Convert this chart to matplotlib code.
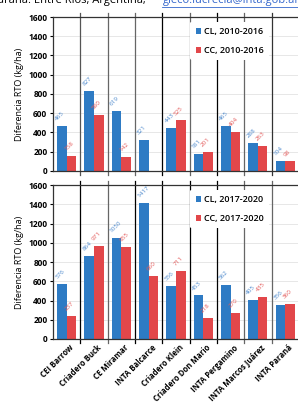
import numpy as np
import matplotlib
matplotlib.use("Agg")
import matplotlib.pyplot as plt

plt.rcParams['font.family'] = ['Open Sans', 'DejaVu Sans']

sites = ["CEI Barrow", "Criadero Buck", "CE Miramar", "INTA Balcarce", "Criadero Klein",
         "Criadero Don Mario", "INTA Pergamino", "INTA Marcos Juárez", "INTA Paraná"]

cl_2010 = [465, 827, 619, 321, 443, 181, 465, 288, 104]
cc_2010 = [158, 580, 142, np.nan, 525, 201, 404, 263, 98]

cl_2017 = [576, 864, 1050, 1417, 556, 453, 562, 405, 356]
cc_2017 = [237, 971, 955, 660, 711, 218, 270, 435, 360]

# separator line colours between groups (as in the original)
sep_top = ['#555555', '#666666', '#666666', 'black', '#666666', 'black', '#666666', '#333333']
sep_bot = ['black', '#666666', 'black', 'black', 'black', 'black', '#666666', '#666666']

blue = '#2E7BC4'
red = '#E2474A'
blue_txt = '#4D89CC'
red_txt = '#E35A5A'


def panel(ax, cl, cc, period, seps, show_x):
    x = np.arange(len(sites))
    w = 0.35
    ax.bar(x - w / 2, cl, w, color=blue, label=f'CL, {period}', zorder=2)
    ax.bar(x + w / 2, cc, w, color=red, label=f'CC, {period}', zorder=2)
    for xi, v in zip(x, cl):
        if not np.isnan(v):
            ax.annotate(f'{v:g}', (xi - w / 2, v), xytext=(-3, 3), textcoords='offset points',
                        rotation=45, rotation_mode='anchor', ha='left', va='bottom',
                        fontsize=4.5, color=blue_txt)
    for xi, v in zip(x, cc):
        if not np.isnan(v):
            ax.annotate(f'{v:g}', (xi + w / 2, v), xytext=(-3, 3), textcoords='offset points',
                        rotation=45, rotation_mode='anchor', ha='left', va='bottom',
                        fontsize=4.5, color=red_txt)
    for k, c in enumerate(seps):
        ax.axvline(k + 0.5, ymin=-0.025, ymax=1.025, color=c, lw=0.9, clip_on=False, zorder=1)
    ax.set_xlim(-0.5, len(sites) - 0.5)
    ax.set_ylim(0, 1600)
    ax.set_yticks(range(0, 1601, 200))
    ax.yaxis.grid(True, color='#e3e3e3', lw=0.6, zorder=0)
    ax.set_axisbelow(True)
    ax.tick_params(axis='y', labelsize=6, length=2, width=0.8, pad=2)
    for t in ax.get_yticklabels():
        t.set_fontweight('bold')
    ax.set_xticks(x + 0.1)
    if show_x:
        ax.set_xticklabels(sites, rotation=45, ha='right', rotation_mode='anchor',
                           fontsize=5.6, fontweight='bold')
    else:
        ax.set_xticklabels([])
    ax.tick_params(axis='x', length=0, pad=3)
    ax.set_ylabel('Diferencia RTO (kg/ha)', fontsize=6.5, labelpad=3)
    ax.spines['right'].set_visible(False)
    for s in ['left', 'bottom', 'top']:
        ax.spines[s].set_color('#333333')
        ax.spines[s].set_linewidth(0.9)
    leg = ax.legend(loc='upper left', bbox_to_anchor=(0.54, 1.0), frameon=True,
                    handlelength=0.6, handleheight=0.6, handletextpad=0.3,
                    labelspacing=1.1, borderpad=0.6, prop={'weight': 'semibold', 'size': 6.5})
    leg.get_frame().set_edgecolor('none')
    leg.get_frame().set_facecolor('white')
    leg.get_frame().set_alpha(1)
    leg.set_zorder(5)


fig = plt.figure(figsize=(2.98, 4.05), dpi=100)
ax1 = fig.add_axes([0.178, 0.578, 0.825, 0.380])
ax2 = fig.add_axes([0.178, 0.163, 0.825, 0.380])
panel(ax1, cl_2010, cc_2010, '2010-2016', sep_top, False)
panel(ax2, cl_2017, cc_2017, '2017-2020', sep_bot, True)

# header line from the source page, cut off at the top as in the original
fig.text(-0.03, 1.0, 'Paraná. Entre Ríos, Argentina; ', fontsize=8, va='center', ha='left')
fig.text(0.545, 1.0, 'gieco.lucrecia@inta.gob.ar', fontsize=8, va='center', ha='left',
         color='#3366cc')
fig.add_artist(plt.Line2D([0.545, 1.0], [0.983, 0.983], color='#3366cc', lw=0.6,
                          transform=fig.transFigure))

fig.savefig('out.png', dpi=100)
